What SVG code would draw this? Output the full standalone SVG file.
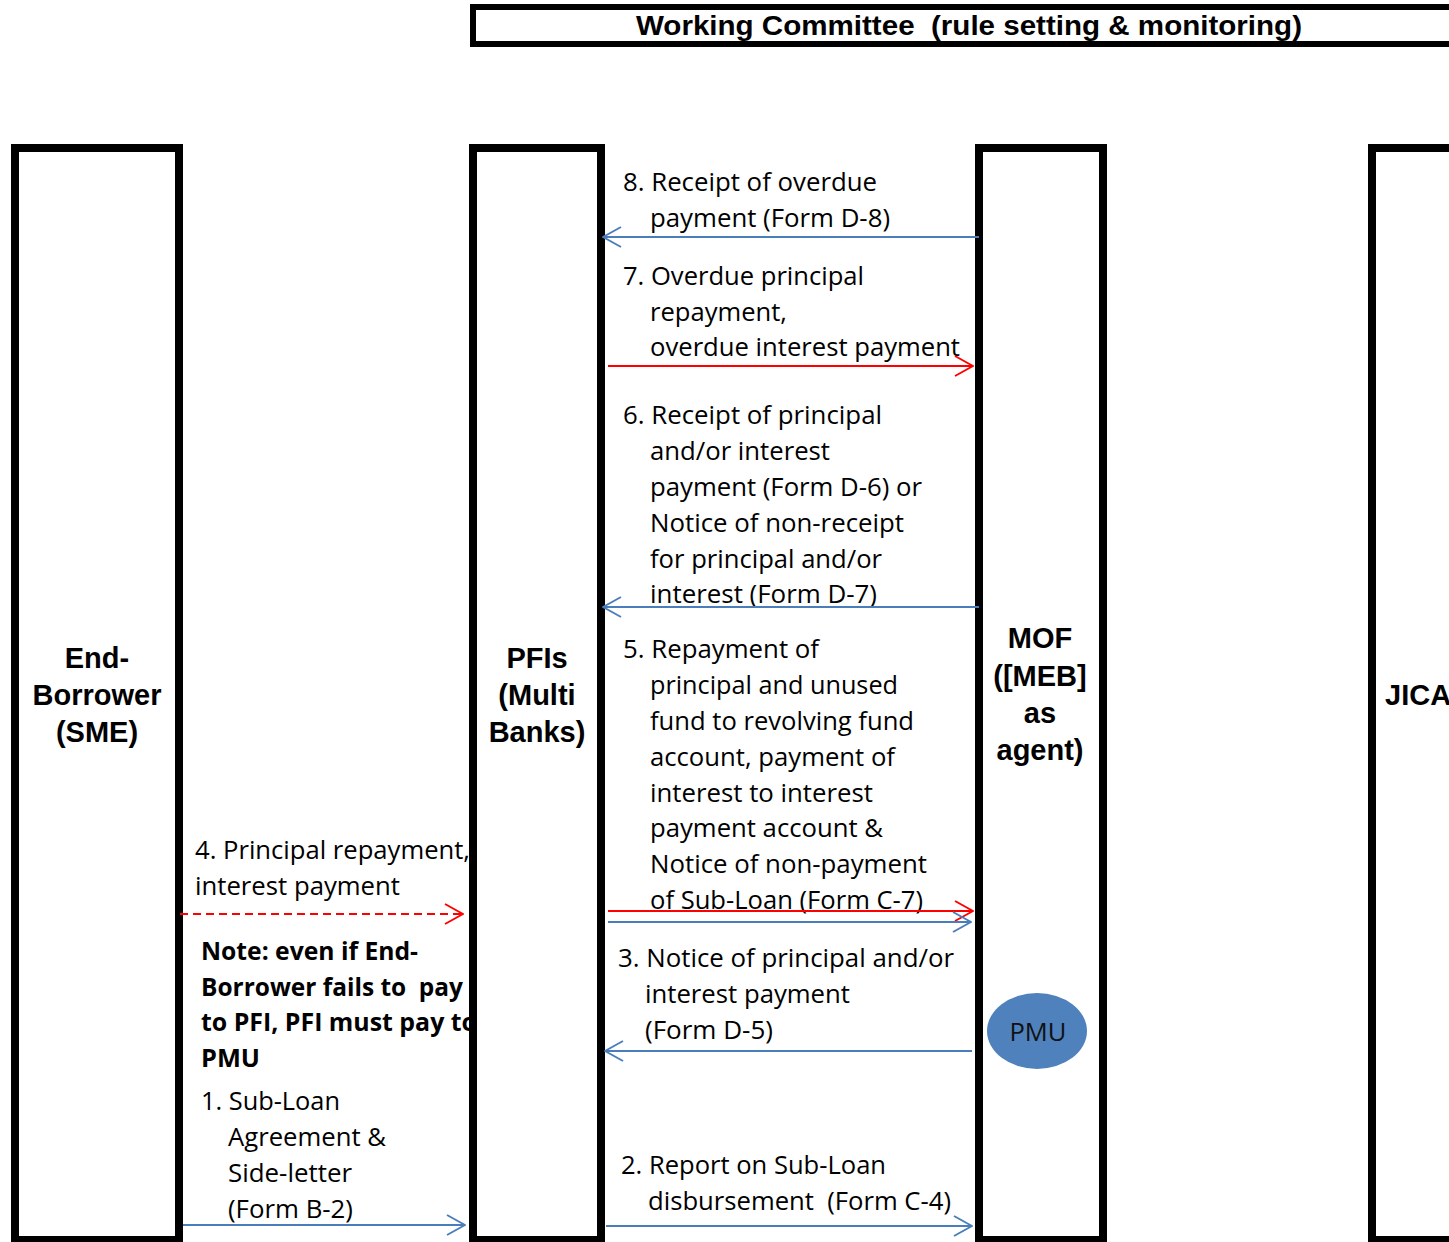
<svg xmlns="http://www.w3.org/2000/svg" width="1449" height="1242" viewBox="0 0 1449 1242">
<style>
.box{fill:#ffffff;stroke:#000000;stroke-width:8}
.title{fill:#ffffff;stroke:#000000;stroke-width:6}
.nl{font-family:"Liberation Sans",Arial,sans-serif;font-weight:bold;font-size:29px;fill:#000;text-anchor:middle}
.el{font-family:"Open Sans","Noto Sans",sans-serif;font-size:25.5px;fill:#000}
.eb{font-family:"Open Sans","Noto Sans",sans-serif;font-weight:bold;font-size:25.5px;fill:#000}
.pre{white-space:pre}
.blue{stroke:#4A7EBB;stroke-width:2;fill:none;marker-end:url(#ab)}
.red{stroke:#FF0000;stroke-width:2;fill:none;marker-end:url(#ar)}
</style>
<defs>
<marker id="ab" viewBox="0 0 20 22" refX="19" refY="11" markerWidth="20" markerHeight="22" markerUnits="userSpaceOnUse" orient="auto">
<path d="M1,1 L19,11 L1,21" fill="none" stroke="#4A7EBB" stroke-width="2" stroke-linejoin="round"/>
</marker>
<marker id="ar" viewBox="0 0 20 22" refX="19" refY="11" markerWidth="20" markerHeight="22" markerUnits="userSpaceOnUse" orient="auto">
<path d="M1,1 L19,11 L1,21" fill="none" stroke="#FF0000" stroke-width="2" stroke-linejoin="round"/>
</marker>
</defs>
<rect width="1449" height="1242" fill="#ffffff"/>

<g id="edge-labels">
<text class="el" x="623" y="191" textLength="254" lengthAdjust="spacingAndGlyphs">8. Receipt of overdue</text>
<text class="el" x="650" y="226.5" textLength="240" lengthAdjust="spacingAndGlyphs">payment (Form D-8)</text>

<text class="el" x="623" y="285" textLength="241" lengthAdjust="spacingAndGlyphs">7. Overdue principal</text>
<text class="el" x="650" y="320.5" textLength="137" lengthAdjust="spacingAndGlyphs">repayment,</text>
<text class="el" x="650" y="356" textLength="310" lengthAdjust="spacingAndGlyphs">overdue interest payment</text>

<text class="el" x="623" y="424" textLength="259" lengthAdjust="spacingAndGlyphs">6. Receipt of principal</text>
<text class="el" x="650" y="460" textLength="180" lengthAdjust="spacingAndGlyphs">and/or interest</text>
<text class="el" x="650" y="496" textLength="272" lengthAdjust="spacingAndGlyphs">payment (Form D-6) or</text>
<text class="el" x="650" y="532" textLength="254" lengthAdjust="spacingAndGlyphs">Notice of non-receipt</text>
<text class="el" x="650" y="568" textLength="232" lengthAdjust="spacingAndGlyphs">for principal and/or</text>
<text class="el" x="650" y="603" textLength="227" lengthAdjust="spacingAndGlyphs">interest (Form D-7)</text>

<text class="el" x="623" y="658" textLength="196" lengthAdjust="spacingAndGlyphs">5. Repayment of</text>
<text class="el" x="650" y="694" textLength="248" lengthAdjust="spacingAndGlyphs">principal and unused</text>
<text class="el" x="650" y="730" textLength="264" lengthAdjust="spacingAndGlyphs">fund to revolving fund</text>
<text class="el" x="650" y="766" textLength="245" lengthAdjust="spacingAndGlyphs">account, payment of</text>
<text class="el" x="650" y="802" textLength="223" lengthAdjust="spacingAndGlyphs">interest to interest</text>
<text class="el" x="650" y="837" textLength="233" lengthAdjust="spacingAndGlyphs">payment account &amp;</text>
<text class="el" x="650" y="873" textLength="277" lengthAdjust="spacingAndGlyphs">Notice of non-payment</text>
<text class="el" x="650" y="909" textLength="273" lengthAdjust="spacingAndGlyphs">of Sub-Loan (Form C-7)</text>

<text class="el" x="195" y="859" textLength="275" lengthAdjust="spacingAndGlyphs">4. Principal repayment,</text>
<text class="el" x="195" y="895" textLength="205" lengthAdjust="spacingAndGlyphs">interest payment</text>

<text class="eb" x="201" y="960" textLength="217" lengthAdjust="spacingAndGlyphs">Note: even if End-</text>
<text class="eb pre" xml:space="preserve" x="201" y="996" textLength="262" lengthAdjust="spacingAndGlyphs">Borrower fails to  pay</text>
<text class="eb" x="201" y="1031" textLength="276" lengthAdjust="spacingAndGlyphs">to PFI, PFI must pay to</text>
<text class="eb" x="201" y="1067" textLength="59" lengthAdjust="spacingAndGlyphs">PMU</text>

<text class="el" x="201" y="1110" textLength="139" lengthAdjust="spacingAndGlyphs">1. Sub-Loan</text>
<text class="el" x="228" y="1146" textLength="158" lengthAdjust="spacingAndGlyphs">Agreement &amp;</text>
<text class="el" x="228" y="1182" textLength="124" lengthAdjust="spacingAndGlyphs">Side-letter</text>
<text class="el" x="228" y="1218" textLength="125" lengthAdjust="spacingAndGlyphs">(Form B-2)</text>

<text class="el" x="618" y="967" textLength="336" lengthAdjust="spacingAndGlyphs">3. Notice of principal and/or</text>
<text class="el" x="645" y="1003" textLength="205" lengthAdjust="spacingAndGlyphs">interest payment</text>
<text class="el" x="645" y="1039" textLength="128" lengthAdjust="spacingAndGlyphs">(Form D-5)</text>

<text class="el" x="621" y="1174" textLength="265" lengthAdjust="spacingAndGlyphs">2. Report on Sub-Loan</text>
<text class="el pre" xml:space="preserve" x="648" y="1210" textLength="303" lengthAdjust="spacingAndGlyphs">disbursement  (Form C-4)</text>
</g>

<g id="working-committee">
<rect class="title" x="473" y="7" width="1000" height="37"/>
<text class="pre" xml:space="preserve" x="636" y="35" font-family="'Liberation Sans',Arial,sans-serif" font-weight="bold" font-size="28" textLength="666" lengthAdjust="spacingAndGlyphs">Working Committee  (rule setting &amp; monitoring)</text>
</g>

<g id="end-borrower">
<rect class="box" x="15" y="148" width="164" height="1092"/>
<text class="nl" x="97" y="668">End-</text>
<text class="nl" x="97" y="705">Borrower</text>
<text class="nl" x="97" y="742">(SME)</text>
</g>

<g id="pfis">
<rect class="box" x="473" y="148" width="128" height="1092"/>
<text class="nl" x="537" y="668">PFIs</text>
<text class="nl" x="537" y="705">(Multi</text>
<text class="nl" x="537" y="742">Banks)</text>
</g>

<g id="mof">
<rect class="box" x="979" y="148" width="124" height="1092"/>
<text class="nl" x="1040" y="648">MOF</text>
<text class="nl" x="1040" y="686">([MEB]</text>
<text class="nl" x="1040" y="723">as</text>
<text class="nl" x="1040" y="760">agent)</text>
</g>

<g id="pmu">
<ellipse cx="1037" cy="1031" rx="50" ry="38" fill="#4F81BD"/>
<text x="1038" y="1041" text-anchor="middle" font-family="'Open Sans','Noto Sans',sans-serif" font-size="25.5" fill="#111" textLength="57" lengthAdjust="spacingAndGlyphs">PMU</text>
</g>

<g id="jica">
<rect class="box" x="1372" y="148" width="120" height="1092"/>
<text class="nl" x="1385" y="705" style="text-anchor:start">JICA</text>
</g>

<g id="connectors">
<line class="blue" x1="979" y1="237" x2="603" y2="237"/>
<line class="red" x1="608" y1="366" x2="973" y2="366"/>
<line class="blue" x1="979" y1="607" x2="603" y2="607"/>
<line class="red" x1="608" y1="911" x2="973" y2="911"/>
<line class="blue" x1="608" y1="922" x2="971" y2="922"/>
<line class="blue" x1="972" y1="1051" x2="605" y2="1051"/>
<line class="blue" x1="606" y1="1226" x2="972" y2="1226"/>
<line class="red" x1="180" y1="914" x2="463" y2="914" stroke-dasharray="8,5"/>
<line class="blue" x1="183" y1="1225" x2="465" y2="1225"/>
</g>
</svg>
